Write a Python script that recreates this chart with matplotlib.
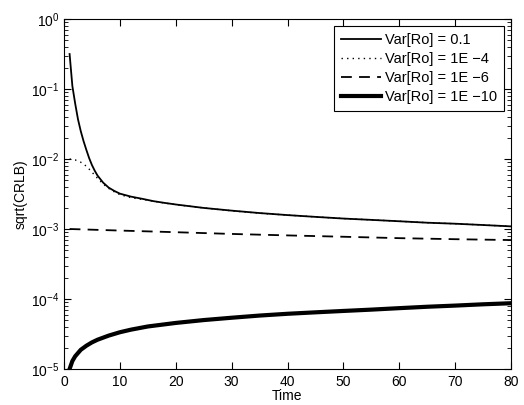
import matplotlib
matplotlib.use('Agg')
import matplotlib.pyplot as plt
from matplotlib.ticker import LogLocator, NullFormatter

plt.rcParams['font.family'] = ['Liberation Sans', 'DejaVu Sans']
plt.rcParams['mathtext.default'] = 'regular'

# Var[Ro] = 0.1
t_a = [1, 1.5, 2, 2.5, 3, 3.5, 4, 4.5, 5, 5.5, 6, 7, 8, 9, 10, 12, 14, 16, 18, 20,
       25, 30, 35, 40, 45, 50, 55, 60, 65, 70, 75, 80]
crlb_a = [0.316, 0.11, 0.062, 0.037, 0.025, 0.018, 0.0135, 0.0103, 0.0082, 0.0068,
          0.0058, 0.0046, 0.0039, 0.0035, 0.0032, 0.0029, 0.0027, 0.0025, 0.00236,
          0.00224, 0.0020, 0.00183, 0.00169, 0.00158, 0.00149, 0.00141, 0.00135,
          0.00129, 0.00123, 0.00119, 0.00114, 0.00109]

# Var[Ro] = 1E-4
t_b = [1, 2, 3, 4, 5, 6, 7, 8, 9, 10, 12, 14, 16, 18, 20, 25, 30, 35, 40, 45, 50,
       55, 60, 65, 70, 75, 80]
crlb_b = [0.0100, 0.0097, 0.0090, 0.0079, 0.0065, 0.0053, 0.0044, 0.0038, 0.0034,
          0.0031, 0.0028, 0.00265, 0.0025, 0.00235, 0.00223, 0.0020, 0.00182,
          0.00168, 0.00158, 0.00149, 0.00141, 0.00135, 0.00129, 0.00123, 0.00119,
          0.00114, 0.00109]

# Var[Ro] = 1E-6
t_c = [1, 10, 20, 30, 40, 50, 60, 70, 80]
crlb_c = [1.0e-3, 9.5e-4, 9.0e-4, 8.5e-4, 8.1e-4, 7.75e-4, 7.4e-4, 7.15e-4, 6.95e-4]

# Var[Ro] = 1E-10
t_d = [1, 1.5, 2, 3, 4, 5, 6, 8, 10, 12, 15, 20, 25, 30, 35, 40, 45, 50, 55, 60,
       65, 70, 75, 80]
crlb_d = [1.0e-5, 1.3e-5, 1.52e-5, 1.88e-5, 2.15e-5, 2.4e-5, 2.62e-5, 3.0e-5,
          3.35e-5, 3.65e-5, 4.05e-5, 4.55e-5, 5.0e-5, 5.4e-5, 5.8e-5, 6.15e-5,
          6.45e-5, 6.75e-5, 7.05e-5, 7.4e-5, 7.75e-5, 8.05e-5, 8.4e-5, 8.7e-5]

labels = ['Var[Ro] = 0.1', 'Var[Ro] = 1E \u22124', 'Var[Ro] = 1E \u22126',
          'Var[Ro] = 1E \u221210']
x_ticks = [0, 10, 20, 30, 40, 50, 60, 70, 80]

fig = plt.figure(figsize=(5.24, 4.05), dpi=100)
ax = fig.add_axes([64 / 524, 36 / 405, 447 / 524, 350 / 405])

ax.plot(t_a, crlb_a, '-', color='k', lw=1.3, label=labels[0])
ax.plot(t_b, crlb_b, color='k', lw=1.0, linestyle=(0, (1, 3)), label=labels[1])
ax.plot(t_c, crlb_c, color='k', lw=1.3, linestyle=(0, (6, 4)), label=labels[2])
ax.plot(t_d, crlb_d, '-', color='k', lw=3.0, label=labels[3])

ax.set_yscale('log')
ax.set_xlim(0, 80)
ax.set_ylim(1e-5, 1)
ax.set_xticks(x_ticks)
ax.yaxis.set_major_locator(LogLocator(base=10, numticks=10))
ax.yaxis.set_minor_locator(LogLocator(base=10, subs=range(2, 10), numticks=20))
ax.yaxis.set_minor_formatter(NullFormatter())

ax.tick_params(which='both', direction='in', top=True, right=True, labelsize=10)
ax.tick_params(which='major', length=5, width=0.8)
ax.tick_params(which='minor', length=3, width=0.6)
ax.tick_params(axis='x', pad=4)
for s in ax.spines.values():
    s.set_linewidth(0.8)

ax.set_xlabel('Time', fontsize=10, labelpad=0)
ax.set_ylabel('sqrt(CRLB)', fontsize=10, labelpad=2)

leg = ax.legend(loc='upper right', fontsize=10.5, frameon=True, fancybox=False,
                edgecolor='k', framealpha=1, handlelength=2.75, borderpad=0.45,
                labelspacing=0.35, handletextpad=0.27, borderaxespad=0.5)
leg.get_frame().set_linewidth(0.8)

fig.savefig('out.png', dpi=100)
